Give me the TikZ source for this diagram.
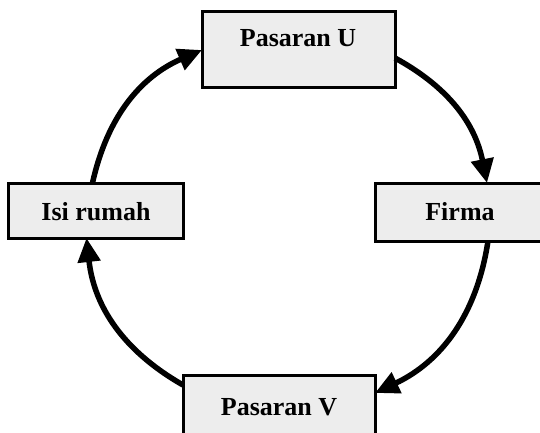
\documentclass[tikz,border=0pt]{standalone}
\usepackage{fontspec}
\setmainfont{Liberation Serif}
\usetikzlibrary{arrows.meta}
\tikzset{
  box/.style={draw=black, line width=3pt, fill=black!7, rectangle, inner sep=0pt, outer sep=0pt},
  lbl/.style={font=\fontsize{26}{30}\selectfont\bfseries, inner sep=0pt, anchor=base},
  arr/.style={line width=5.5pt, draw=black, -{Triangle[length=24pt,width=22pt]}}
}
\begin{document}
\begin{tikzpicture}[x=1pt,y=-1pt]
\clip (0,0) rectangle (540,433);
\fill[white] (0,0) rectangle (540,433);
% boxes
\node[box, minimum width=193pt, minimum height=76pt] (pu) at (298.5,50) {};
\node[box, minimum width=170pt, minimum height=58pt] (fi) at (460,212) {};
\node[box, minimum width=192pt, minimum height=62pt] (pv) at (279,406) {};
\node[box, minimum width=175pt, minimum height=55pt] (ir) at (95.5,210.5) {};
% labels
\node[lbl] (tpu) at (298,47) {Pasaran U};
\node[lbl] (tfi) at (460,220) {Firma};
\node[lbl] (tpv) at (279,415) {Pasaran V};
\node[lbl] (tir) at (96,220) {Isi rumah};
% connectors
\draw[arr] ([xshift=-3pt]ir.north) to[bend left=27] (pu.west);
\draw[arr] ([yshift=-8pt]pu.east) to[bend left=25] ([xshift=112pt]fi.north west);
\draw[arr] ([xshift=113pt]fi.south west) to[bend left=28] ([yshift=-18pt]pv.north east);
\draw[arr] ([yshift=-10pt]pv.north west) to[bend left=27] ([xshift=-9pt]ir.south);
\end{tikzpicture}
\end{document}
